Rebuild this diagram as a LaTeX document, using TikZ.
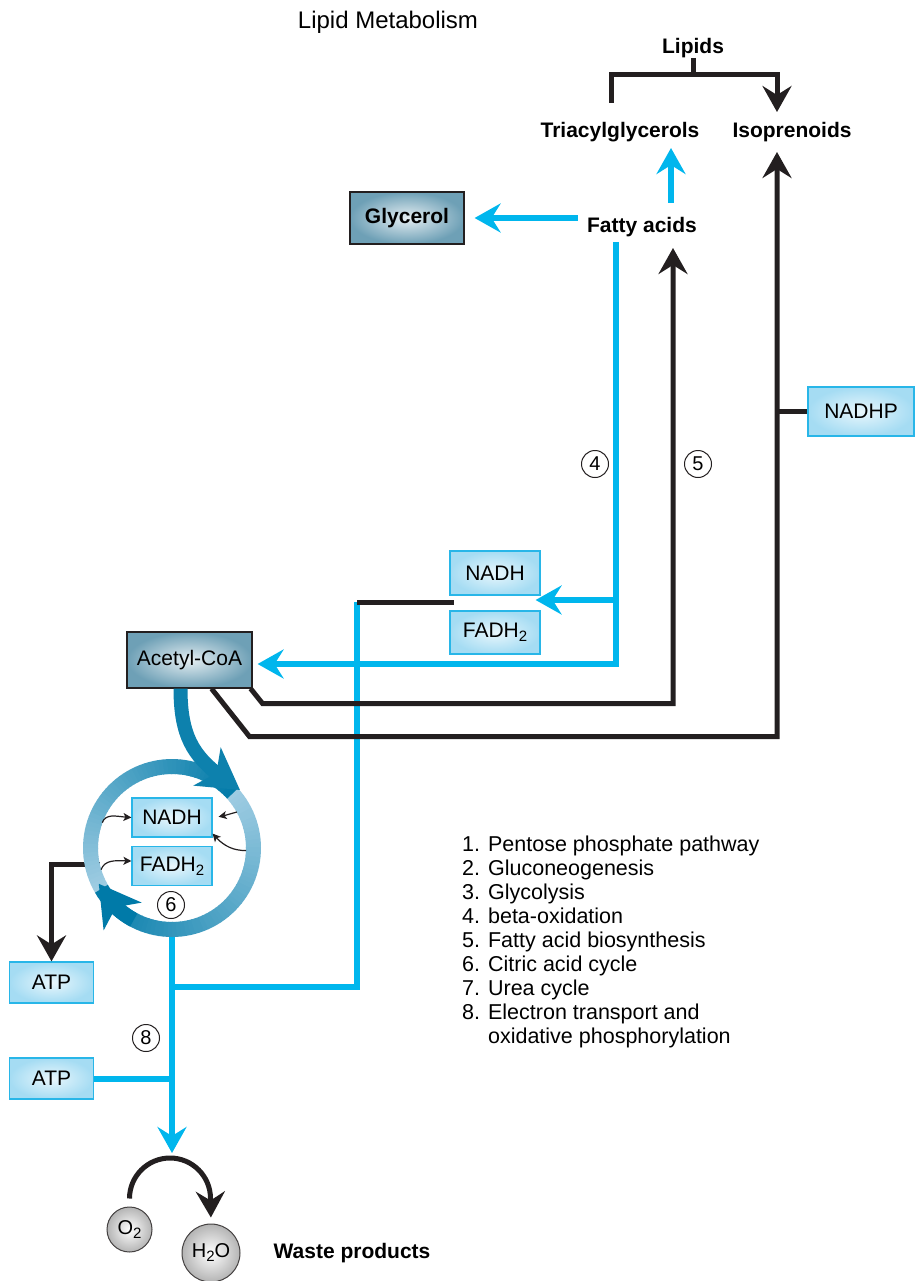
\documentclass[tikz,border=0pt]{standalone}
\usepackage{fontspec}
\setmainfont{Liberation Sans}
\usepackage{tikz}
\usetikzlibrary{arrows.meta,bending}
\definecolor{cyanline}{RGB}{0,182,237}
\definecolor{darkline}{RGB}{35,31,32}
\definecolor{boxfill}{RGB}{165,220,243}
\definecolor{boxedge}{RGB}{40,182,232}
\definecolor{steelfill}{RGB}{110,160,182}
\definecolor{ringdark}{RGB}{0,122,168}
\definecolor{ringlight}{RGB}{158,204,226}
\definecolor{ballfill}{RGB}{180,180,180}
\newcommand{\chemsub}[1]{\raisebox{-4pt}{\fontsize{15}{15}\selectfont#1}}
\begin{document}
\begin{tikzpicture}[line join=miter,x=1pt,y=1pt,
  lbl/.style={inner sep=0pt,font=\fontsize{21}{24}\selectfont\bfseries},
  txt/.style={inner sep=0pt,font=\fontsize{21.5}{24}\selectfont},
  lightbox/.style={draw=boxedge,line width=1.2pt,inner color=boxfill!25,outer color=boxfill,inner sep=0pt,font=\fontsize{21}{24}\selectfont},
  steelbox/.style={draw=darkline,line width=1.2pt,inner color=steelfill!18,outer color=steelfill,inner sep=0pt,font=\fontsize{21}{24}\selectfont},
  numc/.style={circle,draw=darkline,line width=1pt,minimum size=27pt,inner sep=0pt,font=\fontsize{20}{20}\selectfont},
  ball/.style={circle,draw=darkline!85,line width=1pt,inner sep=0pt,inner color=white,outer color=ballfill,font=\fontsize{20}{20}\selectfont},
  blk/.style={draw=darkline,line width=5pt},
  cy/.style={draw=cyanline,line width=6pt},
  headed/.style={-{Stealth[length=26pt,width=29pt,inset=9pt]}},
  thinarr/.style={draw=darkline,line width=1.2pt,-{Stealth[length=8pt,width=8pt,inset=2pt]}},
  ringhead/.style={-{Stealth[length=40pt,width=46pt,inset=11pt]}}
]
\useasboundingbox (0,0) rectangle (914,-1281);

\node[txt,font=\fontsize{24}{26}\selectfont] (title) at (388,-22) {Lipid Metabolism};
\node[lbl] (lipids) at (693,-48) {Lipids};
\node[lbl] (tri) at (620,-132) {Triacylglycerols};
\node[lbl] (iso) at (792,-132) {Isoprenoids};
\node[lbl] (fatty) at (642,-227) {Fatty acids};
\node[steelbox,font=\fontsize{21}{24}\selectfont\bfseries,minimum width=114pt,minimum height=52pt] (glycerol) at (407,-218) {Glycerol};
\node[lightbox,minimum width=106pt,minimum height=49pt] (nadhp) at (861,-411.5) {NADHP};
\node[lightbox,minimum width=90pt,minimum height=44pt] (nadhA) at (495,-573) {NADH};
\node[lightbox,minimum width=90pt,minimum height=43pt] (fadhA) at (495,-632.5) {FADH\chemsub{2}};
\node[steelbox,minimum width=125pt,minimum height=56pt] (acetyl) at (189.5,-660) {Acetyl-CoA};
\node[lightbox,minimum width=80pt,minimum height=39pt] (nadhB) at (172,-817.5) {NADH};
\node[lightbox,minimum width=80pt,minimum height=39pt] (fadhB) at (172,-866) {FADH\chemsub{2}};
\node[lightbox,minimum width=84pt,minimum height=41pt] (atpA) at (51.5,-982.5) {ATP};
\node[lightbox,minimum width=84pt,minimum height=41pt] (atpB) at (51.5,-1078.5) {ATP};
\node[numc] (n4) at (595,-464) {4};
\node[numc] (n5) at (698,-464) {5};
\node[numc] (n6) at (171,-905) {6};
\node[numc] (n8) at (146,-1038) {8};
\node[ball,minimum size=45pt] (otwo) at (129.5,-1229.5) {O\chemsub{2}};
\node[ball,minimum size=58pt] (water) at (211,-1253) {H\chemsub{2}O};
\node[lbl] (waste) at (352,-1253) {Waste products};
\node[circle,minimum size=148pt,inner sep=0pt] (cyc) at (172,-848) {};
\node[txt,anchor=base west] (legend) at (462,-851) {\begin{tabular}[t]{@{}l@{ }l@{}}
1.&Pentose phosphate pathway\\
2.&Gluconeogenesis\\
3.&Glycolysis\\
4.&beta-oxidation\\
5.&Fatty acid biosynthesis\\
6.&Citric acid cycle\\
7.&Urea cycle\\
8.&Electron transport and\\
&oxidative phosphorylation
\end{tabular}};

\coordinate (brL) at (611,-103);
\coordinate (brR) at (777,-75);
\coordinate (up) at (671,-203);
\coordinate (t5) at (673,-248);
\coordinate (t6) at (777,-152);
\coordinate (c4) at (616,-242);
\coordinate (b4) at (616,-600);
\coordinate (e8) at (357,-602);
\coordinate (j8) at (172,-987);
\coordinate (t8) at (172,-1153);
\coordinate (h1) at (240,-790);

% lipids
\draw[blk] (lipids.south) -- (lipids.south |- brR);
\draw[blk,headed,shorten >=10pt] (brL) |- (brR) -- (brR |- iso.north);
\draw[cy,headed,shorten >=6pt] (up) -- (up |- tri.south);
\draw[cy,headed,shorten <=9pt,shorten >=10pt] (fatty.west |- glycerol.east) -- (glycerol.east);

% beta-oxidation
\draw[cy,headed,shorten >=5pt] (c4) |- ([yshift=-4pt]acetyl.east);
\draw[cy,headed] (b4) -- ([xshift=-5pt]b4 -| nadhA.east);

% electron transport
\draw[cy] (e8) |- (j8);
\draw[cy,headed] (cyc.south) -- (t8);
\draw[cy] (atpB.east) -- (atpB.east -| t8);
\draw[blk] (e8) -- ([xshift=5pt]e8 -| nadhA.west);

% biosynthesis
\draw[blk,headed] ([xshift=-2pt]acetyl.south east) -- ++(12,-15) -| (t5);
\draw[blk,headed] ([xshift=22pt]acetyl.south) -- ++(38,-48) -| (t6);
\draw[blk] (t6 |- nadhp.west) -- (nadhp.west);

\draw[blk,headed] (cyc.193) -| (atpA.north);

% citric acid cycle
\foreach \a in {0,3,...,357}{
  \pgfmathsetmacro\rfrac{\a<=40 ? (40-\a)/193 : (\a>207 ? (400-\a)/193 : (207-\a)/167)}
  \pgfmathsetmacro\rpct{int(100*\rfrac)}
  \draw[ringdark!\rpct!ringlight,line width=15pt] (cyc.center) ++(\a:81.5) arc[start angle=\a,end angle=\a+3.6,radius=81.5];
}
\draw[ringdark,line width=15pt,ringhead] (cyc.center) ++(242:81.5) arc[start angle=242,end angle=206,radius=81.5];
\draw[ringdark!92!ringlight,line width=14pt,ringhead] ([xshift=-9pt]acetyl.south) .. controls +(0,-58) and +(-40,27) .. (h1);

\draw[thinarr] (cyc.160) to[out=70,in=180] (nadhB.west);
\draw[thinarr] (cyc.197) to[out=70,in=180] ([yshift=5pt]fadhB.west);
\draw[thinarr,shorten >=6pt] (cyc.29) to[out=195,in=5] (nadhB.east);
\draw[thinarr] (cyc.-2) to[out=180,in=-50] ([yshift=4pt]nadhB.south east);

% waste
\draw[blk,headed,shorten >=6pt] ([yshift=8pt]otwo.north) arc[start angle=180,end angle=0,radius=40.5] -- (water.north);
\end{tikzpicture}
\end{document}
